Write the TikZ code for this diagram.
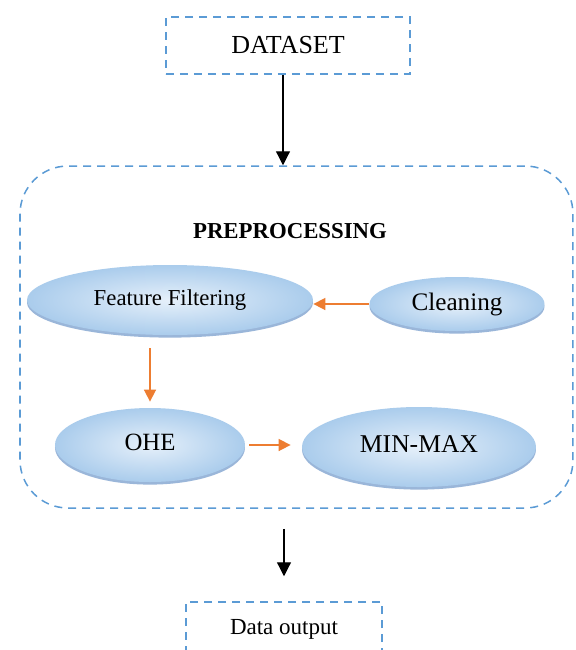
\documentclass[tikz,border=0pt]{standalone}
\usepackage{fontspec}
\setmainfont{Liberation Serif}
\usetikzlibrary{arrows.meta,shapes.geometric,shadows}
\definecolor{dashblue}{RGB}{91,155,213}
\definecolor{arrorange}{RGB}{237,125,49}
\definecolor{blobin}{RGB}{230,240,250}
\definecolor{blobout}{RGB}{170,204,236}
\definecolor{blobrim}{RGB}{112,152,202}
\begin{document}
\begin{tikzpicture}[x=.5pt,y=-.5pt,
    dbox/.style={draw=dashblue,line width=.75pt,dash pattern=on 4pt off 3pt,inner sep=0pt},
    blob/.style={ellipse,inner sep=0pt,text depth=2.5pt,inner color=blobin,outer color=blobout,
      drop shadow={shadow xshift=0pt,shadow yshift=-1.3pt,fill=blobrim,opacity=.7}},
    oarr/.style={draw=arrorange,line width=.8pt,-{Triangle[length=6pt,width=6pt]}},
    barr/.style={line width=.6pt,-{Triangle[length=7pt,width=7pt]}}]
    \fill[white](0,0)rectangle(575,650);
    \useasboundingbox(0,0)rectangle(575,650);
    \clip(0,0)rectangle(575,650);
    % input and output boxes
    \node[dbox,minimum width=122pt,minimum height=28.5pt,font=\fontsize{13}{15}\selectfont](data)at(288,45.5){DATASET};
    \node[dbox,minimum width=98pt,minimum height=27pt,font=\fontsize{11.5}{13}\selectfont](out)at(284,629){Data output};
    % preprocessing block
    \node[dbox,rounded corners=24pt,minimum width=276.5pt,minimum height=171pt](prep)at(296.5,337){};
    \node[font=\fontsize{11.4}{13}\selectfont\bfseries](title)at(290,231){PREPROCESSING};
    \node[blob,minimum width=143pt,minimum height=35pt,font=\fontsize{11.4}{13}\selectfont](ff)at(170,300){Feature Filtering};
    \node[blob,minimum width=87.5pt,minimum height=27pt,font=\fontsize{12.6}{14}\selectfont](clean)at(457,304){Cleaning};
    \node[blob,minimum width=95pt,minimum height=37pt,font=\fontsize{12.4}{14}\selectfont](ohe)at(150,445){OHE};
    \node[blob,minimum width=117pt,minimum height=40pt,font=\fontsize{12.8}{14}\selectfont](mm)at(419,447){MIN-MAX};
    % arrows
    \draw[barr]([xshift=-2.5pt]data.south)--([xshift=-2.5pt]data.south|-prep.north);
    \draw[oarr](clean.west)--(clean.west-|ff.east);
    \draw[oarr,shorten <=6.5pt,shorten >=3pt](ohe.north|-ff.south)--(ohe.north);
    \draw[oarr,shorten <=2pt,shorten >=5.5pt](ohe.east)--(ohe.east-|mm.west);
    \draw[barr,shorten <=10pt,shorten >=12.5pt](out.north|-prep.south)--(out.north);
\end{tikzpicture}
\end{document}
